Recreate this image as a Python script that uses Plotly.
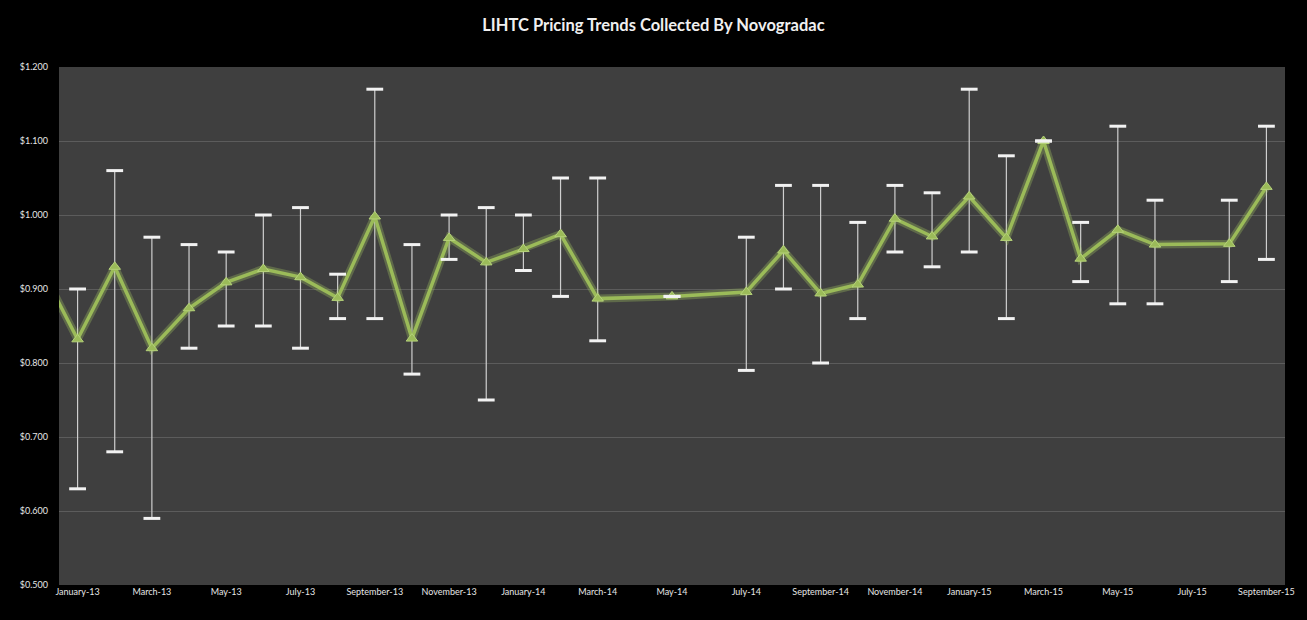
import numpy as np
import plotly.graph_objects as go

# Monthly categories (December-12 sits just left of the visible range)
months = [
    "December-12",
    "January-13", "February-13", "March-13", "April-13", "May-13", "June-13",
    "July-13", "August-13", "September-13", "October-13", "November-13", "December-13",
    "January-14", "February-14", "March-14", "April-14", "May-14", "June-14",
    "July-14", "August-14", "September-14", "October-14", "November-14", "December-14",
    "January-15", "February-15", "March-15", "April-15", "May-15", "June-15",
    "July-15", "August-15", "September-15",
]

# Average price per credit
avg_price = [
    0.930,
    0.832, 0.930, 0.820, 0.874, 0.909, 0.927,
    0.916, 0.888, 0.998, 0.833, 0.969, 0.936,
    0.954, 0.974, 0.887, None, 0.890, None,
    0.896, 0.952, 0.894, 0.906, 0.995, 0.971,
    1.025, 0.969, 1.100, 0.941, 0.980, 0.960,
    None, 0.961, 1.038,
]

# Highest and lowest reported prices
high_price = [
    None,
    0.900, 1.060, 0.970, 0.960, 0.950, 1.000,
    1.010, 0.920, 1.170, 0.960, 1.000, 1.010,
    1.000, 1.050, 1.050, None, 0.890, None,
    0.970, 1.040, 1.040, 0.990, 1.040, 1.030,
    1.170, 1.080, 1.100, 0.990, 1.120, 1.020,
    None, 1.020, 1.120,
]
low_price = [
    None,
    0.630, 0.680, 0.590, 0.820, 0.850, 0.850,
    0.820, 0.860, 0.860, 0.785, 0.940, 0.750,
    0.925, 0.890, 0.830, None, 0.890, None,
    0.790, 0.900, 0.800, 0.860, 0.950, 0.930,
    0.950, 0.860, 1.100, 0.910, 0.880, 0.880,
    None, 0.910, 0.940,
]

tick_labels = [
    "January-13", "March-13", "May-13", "July-13", "September-13", "November-13",
    "January-14", "March-14", "May-14", "July-14", "September-14", "November-14",
    "January-15", "March-15", "May-15", "July-15", "September-15",
]
y_ticks = [0.5, 0.6, 0.7, 0.8, 0.9, 1.0, 1.1, 1.2]

def arr(vals):
    return np.array([np.nan if v is None else v for v in vals], dtype=float)

v = arr(avg_price)
hi = arr(high_price)
lo = arr(low_price)

GREEN = "#9bbb59"
fig = go.Figure()

# Range stems (high/low)
fig.add_trace(go.Scatter(
    x=months, y=v, mode="markers",
    marker=dict(size=0.1, color="rgba(0,0,0,0)"),
    error_y=dict(type="data", symmetric=False, array=hi - v, arrayminus=v - lo,
                 color="#cfcfcf", thickness=1.2, width=0),
    hoverinfo="skip", showlegend=False,
))

# Soft glow under the trend line
fig.add_trace(go.Scatter(
    x=months, y=avg_price, mode="lines", connectgaps=True,
    line=dict(color="rgba(170,205,100,0.30)", width=8),
    hoverinfo="skip", showlegend=False,
))

# Average price trend
fig.add_trace(go.Scatter(
    x=months, y=avg_price, mode="lines+markers", connectgaps=True,
    line=dict(color=GREEN, width=3.5),
    marker=dict(symbol="triangle-up", size=10, color=GREEN,
                line=dict(color="#b5d27a", width=1)),
    name="Price", showlegend=False,
))

# High/low caps
for series in (high_price, low_price):
    fig.add_trace(go.Scatter(
        x=months, y=series, mode="markers",
        marker=dict(symbol="line-ew", size=12,
                    line=dict(color="#f2f2f2", width=3)),
        hoverinfo="skip", showlegend=False,
    ))

fig.update_layout(
    width=1307, height=620,
    paper_bgcolor="#000000",
    plot_bgcolor="#3f3f3f",
    margin=dict(l=59, r=16, t=67, b=35),
    title=dict(text="<b>LIHTC Pricing Trends Collected By Novogradac</b>",
               x=0.5, xanchor="center", y=0.96, yanchor="middle",
               font=dict(family="Lato, Open Sans, sans-serif", size=16.5, color="#f0f0f0")),
    font=dict(family="Lato, Open Sans, sans-serif", color="#e6e6e6"),
)

fig.update_xaxes(
    type="category", categoryorder="array", categoryarray=months,
    range=[0.5, len(months) - 0.5],
    tickmode="array", tickvals=tick_labels, ticktext=tick_labels,
    tickangle=0, tickfont=dict(size=9, color="#e6e6e6"),
    showgrid=False, zeroline=False, showline=False, ticks="",
)
fig.update_yaxes(
    range=[0.5, 1.2], tickmode="array", tickvals=y_ticks,
    tickformat="$.3f", tickfont=dict(size=9, color="#e6e6e6"),
    showgrid=True, gridcolor="#5c5c5c", gridwidth=1,
    zeroline=False, showline=False, ticks="", ticklabelstandoff=10,
)

fig.write_html("out.html")
